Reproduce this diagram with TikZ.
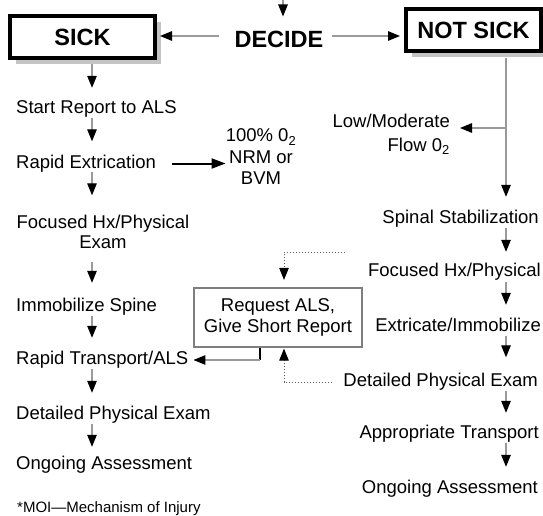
\documentclass[tikz,border=0pt]{standalone}
\usepackage{fontspec}
\setmainfont{Liberation Sans}
\usetikzlibrary{arrows.meta,shadows,calc}

\definecolor{linegray}{HTML}{9A9A9A}
\definecolor{dotgray}{HTML}{5E5E5E}
\definecolor{shadowgray}{HTML}{C4C4C4}
\definecolor{boxgray}{HTML}{7F7F7F}

\begin{document}
\begin{tikzpicture}[x=1pt,y=-1pt,
  every node/.style={inner sep=0pt},
  head/.style={font=\fontsize{23.5}{27}\selectfont\bfseries},
  item/.style={font=\fontsize{18.5}{20}\selectfont, text height=13pt, text depth=4pt},
  hbox/.style={draw=black, line width=4pt, fill=white, head,
    drop shadow={shadow xshift=6pt, shadow yshift=-6pt, fill=shadowgray, opacity=1}},
  conn/.style={draw=linegray, line width=1.3pt,
    -{Triangle[length=12pt,width=9.5pt,color=black,fill=black]}},
  boldconn/.style={draw=black, line width=2pt,
    -{Triangle[length=14pt,width=10pt,color=black,fill=black]}},
  dotconn/.style={draw=dotgray, line width=1pt, dash pattern=on 1pt off 2pt,
    -{Triangle[length=12pt,width=9.5pt,color=black,fill=black]}}
]
\fill[white] (0,0) rectangle (543,516);
\useasboundingbox (0,0) rectangle (543,516);

% guide lines for the two columns and the box lanes
\coordinate (colL) at (92,0);
\coordinate (colR) at (506,0);
\coordinate (lanex) at (284,0);
\coordinate (exitx) at (260,0);
\coordinate (entry) at (283,0);
\coordinate (branch) at (506,128);
\coordinate (dtop) at (345,252);

% decision and the two header boxes
\node[head] (decide) at (279,39) {DECIDE};
\node[hbox, minimum width=145pt, minimum height=42pt] (sick) at (82.5,37) {SICK};
\node[hbox, minimum width=135pt, minimum height=42pt] (notsick) at (473.5,30) {NOT SICK};

\draw[conn, shorten >=14pt] (entry) -- (entry |- decide.north);
\draw[conn, shorten <=15pt, shorten >=3pt] ([yshift=3pt]decide.west) -- ([yshift=3pt]decide.west -| sick.east);
\draw[conn, shorten <=8pt, shorten >=4pt] ([yshift=3pt]decide.east) -- ([yshift=3pt]decide.east -| notsick.west);

% left column
\node[item, anchor=base west] (start) at (16,113.5) {Start Report to ALS};
\node[item, anchor=base west] (rapid) at (16,168) {Rapid Extrication};
\node[item, anchor=base] (focus) at (103,228.5) {Focused Hx/Physical};
\node[item, anchor=base] (exam) at (103,248.5) {Exam};
\node[item, anchor=base west] (immob) at (16,311.5) {Immobilize Spine};
\node[item, anchor=base west] (rtrans) at (16,364.5) {Rapid Transport/ALS};
\node[item, anchor=base west] (ldetail) at (16,419.5) {Detailed Physical Exam};
\node[item, anchor=base west] (longoing) at (16,469.5) {Ongoing Assessment};
\node[font=\fontsize{15}{18}\selectfont, anchor=base west] (moi) at (17,512) {*MOI—Mechanism of Injury};

\draw[conn, shorten <=4pt, shorten >=12.5pt] (sick.south -| colL) -- (start.north -| colL);
\draw[conn, shorten >=13.5pt] (start.south -| colL) -- (rapid.north -| colL);
\draw[conn, shorten >=20pt] (rapid.south -| colL) -- (focus.north -| colL);
\draw[conn, shorten <=9.5pt, shorten >=15.5pt] (exam.south -| colL) -- (immob.north -| colL);
\draw[conn, shorten >=13.5pt] (immob.south -| colL) -- (rtrans.north -| colL);
\draw[conn, shorten >=13.5pt] (rtrans.south -| colL) -- (ldetail.north -| colL);
\draw[conn, shorten >=9.5pt] (ldetail.south -| colL) -- (longoing.north -| colL);

% oxygen for the sick patient
\node[font=\fontsize{18.5}{21.5}\selectfont, align=center] (oxy) at (261,157)
  {100\% 0\textsubscript{2}\\NRM or\\BVM};
\draw[boldconn, shorten <=16pt] (rapid.east) -- (rapid.east -| oxy.west);

% request box in the middle
\node[draw=boxgray, line width=1.2pt, minimum width=168pt, minimum height=59pt,
  align=center, font=\fontsize{18.5}{21}\selectfont] (req) at (278,317.5)
  {Request ALS,\\Give Short Report};
\draw[line width=1.6pt, black] (req.south -| exitx) -- (rtrans.east -| exitx);
\draw[conn, shorten >=5pt] (rtrans.east -| exitx) -- (rtrans.east);

% right column
\node[item, anchor=base east] (spinal) at (539,223.5) {Spinal Stabilization};
\node[item, anchor=base east] (rfocus) at (541,276.5) {Focused Hx/Physical};
\node[item, anchor=base east] (extric) at (541,331.5) {Extricate/Immobilize};
\node[item, anchor=base east] (rdetail) at (538,386.5) {Detailed Physical Exam};
\node[item, anchor=base east] (approp) at (539,438.5) {Appropriate Transport};
\node[item, anchor=base east] (rongoing) at (538,493.5) {Ongoing Assessment};
\node[font=\fontsize{18.5}{24}\selectfont, align=right, anchor=east] (lowflow) at (450,134)
  {Low/Moderate\\Flow 0\textsubscript{2}};

\draw[conn, shorten <=5pt, shorten >=13.5pt] (notsick.south -| colR) -- (spinal.north -| colR);
\draw[conn, shorten >=10pt] (branch) -- (branch -| lowflow.east);
\draw[conn, shorten >=11.5pt] (spinal.south -| colR) -- (rfocus.north -| colR);
\draw[conn, shorten <=1pt, shorten >=13.5pt] (rfocus.south -| colR) -- (extric.north -| colR);
\draw[conn, shorten >=16pt] (extric.south -| colR) -- (rdetail.north -| colR);
\draw[conn, shorten >=12.5pt] (rdetail.south -| colR) -- (approp.north -| colR);
\draw[conn, shorten >=13.5pt] (approp.south -| colR) -- (rongoing.north -| colR);

% dotted feeds into the request box
\draw[dotconn, shorten >=7.5pt] (dtop) -| (req.north -| lanex);
\draw[dotconn, shorten <=11pt, shorten >=1pt] (rdetail.west) -| (req.south -| lanex);
\end{tikzpicture}
\end{document}
